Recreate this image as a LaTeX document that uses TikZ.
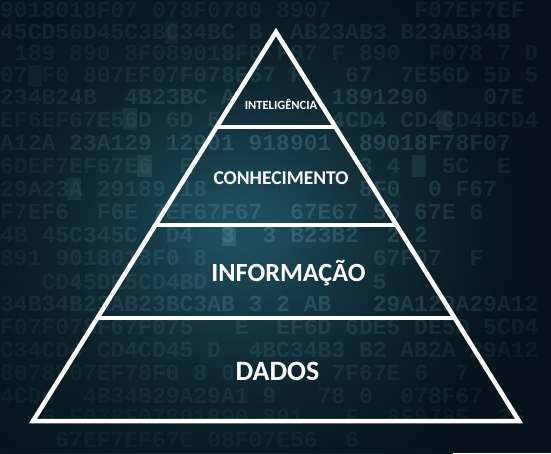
\documentclass[tikz,border=0pt]{standalone}
\usepackage{fontspec}
\setmainfont{Carlito}
\newfontfamily\hexfont{Liberation Mono}
\usetikzlibrary{calc,fadings}
\definecolor{bgdark}{HTML}{06131A}
\definecolor{bgmid}{HTML}{245C6E}
\definecolor{hexcol}{HTML}{5F9FB2}
\definecolor{hexlit}{HTML}{8CCAD8}
\tikzfading[name=vignette, inner color=transparent!100, outer color=transparent!30]
\tikzset{
  pyrline/.style={draw=white,line width=4.5pt},
  leveltext/.style={text=white,font=\bfseries,anchor=base,inner sep=0pt},
  hexrow/.style={text=hexcol,anchor=base west,inner sep=0pt,
    text height=13pt,text depth=0pt,
    font=\hexfont\bfseries\fontsize{23}{23}\selectfont},
  hextile/.style={fill=hexlit,opacity=0.2}
}
\begin{document}
\begin{tikzpicture}[x=1pt,y=-1pt]
\useasboundingbox (0,0) rectangle (551,453);
\clip (0,0) rectangle (551,453);

% background
\fill[bgdark] (0,0) rectangle (551,453);
\shade[inner color=bgmid,outer color=bgdark] (210,230) circle (330pt);

\fill[hextile] (28,65) rectangle (42,87);
\fill[hextile] (123,108) rectangle (137,130);
\fill[hextile] (165,22) rectangle (178,44);
\fill[hextile] (137,155) rectangle (152,177);
\fill[hextile] (67,178) rectangle (81,200);
\fill[hextile] (222,224) rectangle (236,246);
\fill[hextile] (412,155) rectangle (426,177);
\fill[hextile] (438,110) rectangle (452,131);

\node[hexrow,opacity=0.35] (row1) at (0,17) {9018018F07~078F0780~8907~~~~~~F07EF7EF};
\node[hexrow,opacity=0.40] (row2) at (0,39) {45CD56D45C3BC34BC~B~~AB23AB3~B23AB34B};
\node[hexrow,opacity=0.30] (row3) at (0,60) {~189~890~8F089018F0~F07~F~890~~F078~7~D};
\node[hexrow,opacity=0.35] (row4) at (0,82) {07~F0~807EF07F078E67~F~~~67~~7E56D~5D~5};
\node[hexrow,opacity=0.45] (row5) at (0,104) {234B24B~~4B23BC~A~~~~~~~1891290~~~~07E};
\node[hexrow,opacity=0.35] (row6) at (0,127) {EF6EF67E56D~6D~5~~~~~~~~4CD4~CD4CD4BCD4};
\node[hexrow,opacity=0.45] (row7) at (0,150) {A12A~23A129~12901~918901~~89018F78F07};
\node[hexrow,opacity=0.30] (row8) at (0,173) {6DEF7EF67E6~~E~~~~~~~~~~~~3~4~~~5C~~E};
\node[hexrow,opacity=0.35] (row9) at (0,196) {29A23A~29189~18~~~~~~~~~~~8F0~~0~F67};
\node[hexrow,opacity=0.35] (row10) at (0,219) {F7EF6~~F6E~7EF67F67~~67E67~56~67E~6};
\node[hexrow,opacity=0.35] (row11) at (0,242) {4B~45C345C~~D4~~3~~3~B23B2~~2~2};
\node[hexrow,opacity=0.30] (row12) at (0,265) {891~9018018F0~8~~~~~~~~~~~~67F07~~F};
\node[hexrow,opacity=0.30] (row13) at (0,289) {~~~CD45DE5CD4BD~~~~~~~~~~~~5};
\node[hexrow,opacity=0.40] (row14) at (0,311) {34B34B23AB23BC3AB~3~2~AB~~~29A129A29A12};
\node[hexrow,opacity=0.30] (row15) at (0,334) {F07F078F67F075~~~E~~EF6D~6DE5~DE5D~5CD4};
\node[hexrow,opacity=0.30] (row16) at (0,357) {C34CD4~CD4CD45~D~~4BC34B3~B2~AB2A~29A12};
\node[hexrow,opacity=0.28] (row17) at (0,380) {8078F07EF78F0~8~0~~~~~~~7F67E~6~~7};
\node[hexrow,opacity=0.28] (row18) at (0,403) {4CD4~~4B34B29A29A1~9~~~78~0~~078F67};
\node[hexrow,opacity=0.22] (row19) at (0,424) {~~~6~F078F07801890~801~~~F~~8F078F~~3E};
\node[hexrow,opacity=0.28] (row20) at (0,447) {~~~~67EF7EF67E~08F07E56~~6};

\fill[bgdark,path fading=vignette] (0,0) rectangle (551,453);

% pyramid
\coordinate (apex) at (276,32);
\coordinate (baseL) at (33,421);
\coordinate (baseR) at (519,421);
\coordinate (l1) at ($(apex)!0.244!(baseL)$);
\coordinate (r1) at ($(apex)!0.244!(baseR)$);
\coordinate (l2) at ($(apex)!0.496!(baseL)$);
\coordinate (r2) at ($(apex)!0.496!(baseR)$);
\coordinate (l3) at ($(apex)!0.735!(baseL)$);
\coordinate (r3) at ($(apex)!0.735!(baseR)$);

\draw[pyrline] (apex) -- (baseL) -- (baseR) -- cycle;
\draw[pyrline] (l1) -- (r1);
\draw[pyrline] (l2) -- (r2);
\draw[pyrline] (l3) -- (r3);

\node[leveltext,font=\bfseries\fontsize{12.5}{12.5}\selectfont] (intel) at (281,109.5) {INTELIGÊNCIA};
\node[leveltext,font=\bfseries\fontsize{19.5}{19.5}\selectfont] (conhec) at (281,184.5) {CONHECIMENTO};
\node[leveltext,font=\bfseries\fontsize{26.2}{26.2}\selectfont] (inform) at (288.5,281) {INFORMAÇÃO};
\node[leveltext,font=\bfseries\fontsize{28}{28}\selectfont] (dados) at (277.5,380) {DADOS};
\end{tikzpicture}
\end{document}
